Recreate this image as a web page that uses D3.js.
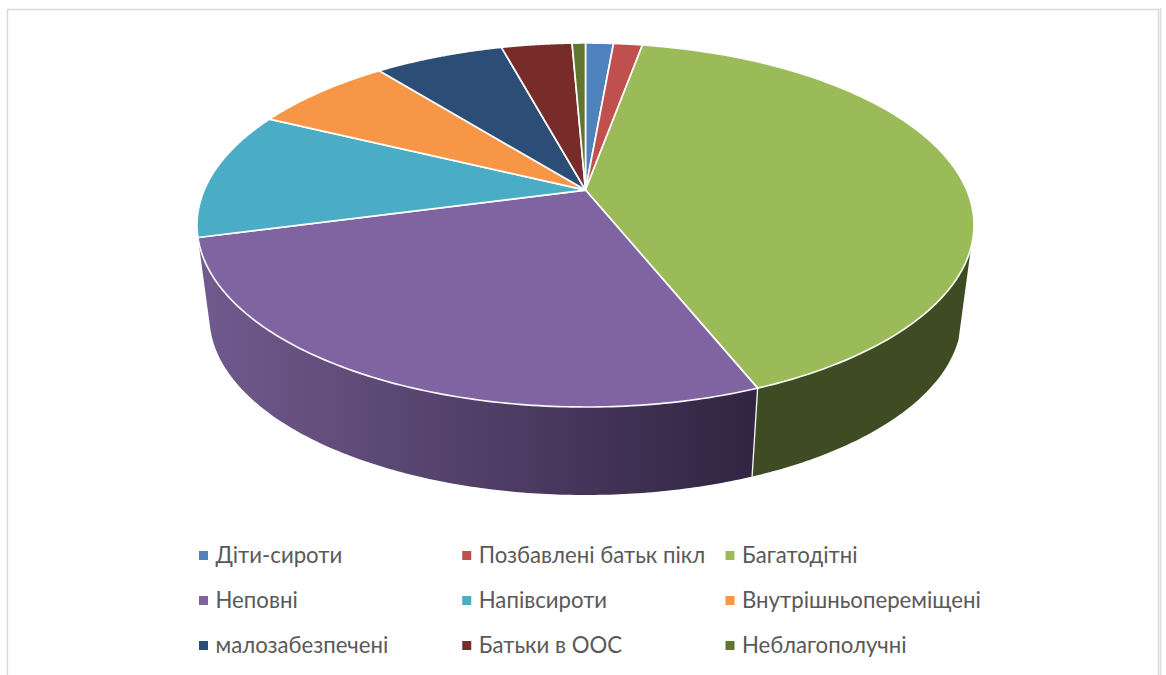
<!DOCTYPE html>
<html><head><meta charset="utf-8">
<script src="https://cdn.jsdelivr.net/npm/d3@7"></script>
<style>
html,body{margin:0;padding:0;background:#fff;overflow:hidden}
svg{display:block}
text{font-family:Lato,"Open Sans","Noto Sans",sans-serif}
</style></head><body>
<div id="chart"></div>
<script>
const categories = ["Діти-сироти","Позбавлені батьк пікл","Багатодітні","Неповні","Напівсироти","Внутрішньопереміщені","малозабезпечені","Батьки в ООС","Неблагополучні"];
const values = [1.4,1.45,41.22,26.98,11.4,7.1,6.5,3.55,0.67];
const colors = ["#4f81bd","#c0504d","#9bbb59","#8064a2","#4bacc6","#f79646","#2c4d75","#772c2a","#5f7530"];

const W=1166,H=675;
const svg=d3.select("#chart").append("svg").attr("width",W).attr("height",H);
const defs=svg.append("defs");

svg.append("path").attr("d",`M7.5 ${H} V9.5 H1158.5 V${H}`).attr("fill","none").attr("stroke","#d9d9d9").attr("stroke-width",1.4);
svg.append("line").attr("x1",1160.5).attr("x2",1160.5).attr("y1",8).attr("y2",H).attr("stroke","#dcdcdc").attr("stroke-width",1.6);

// Perspective: unit circle -> unit disc with the pie centre pushed up, then to an ellipse
const c=0.192, s=Math.sqrt(1-c*c);
const project=a=>{const x=Math.sin(a),y=Math.cos(a),d=1+c*y;return [x*s/d,(y+c)/d];};
const topX=d3.scaleLinear().domain([-1,1]).range([197,974]);
const topY=d3.scaleLinear().domain([-1,1]).range([407,43]);
const botX=d3.scaleLinear().domain([-1,1]).range([209.5,961.5]);
const botY=d3.scaleLinear().domain([-1,1]).range([495,139]);
const topPt=a=>{const p=project(a);return [topX(p[0]),topY(p[1])];};
const botPt=a=>{const p=project(a);return [botX(p[0]),botY(p[1])];};
const line=d3.line();
const arcs=d3.pie().sort(null).value(d=>d)(values);
const samples=(a,b,n)=>d3.range(n+1).map(i=>a+(b-a)*i/n);

// side walls: Багатодітні and Неповні
const grad=defs.append("linearGradient").attr("id","wall").attr("gradientUnits","userSpaceOnUse")
  .attr("x1",200).attr("x2",752).attr("y1",0).attr("y2",0);
grad.append("stop").attr("offset",0).attr("stop-color","#715a8e");
grad.append("stop").attr("offset",0.5).attr("stop-color","#523f68");
grad.append("stop").attr("offset",1).attr("stop-color","#302542");

const rightEnd=Math.PI*0.6;
const greenA=samples(rightEnd,arcs[2].endAngle,80);
const purpleA=samples(arcs[3].startAngle,arcs[3].endAngle,160);
svg.append("path").attr("d",line(greenA.map(topPt).concat(greenA.slice().reverse().map(botPt)))+"Z").attr("fill","#3f4b22");
svg.append("path").attr("d",line(purpleA.map(topPt).concat(purpleA.slice().reverse().map(botPt)))+"Z").attr("fill","url(#wall)");
svg.append("path").attr("d",line([topPt(arcs[2].endAngle),botPt(arcs[2].endAngle)])).attr("stroke","#f2f2f2").attr("stroke-width",1.4).attr("fill","none");

// top face
const centre=[topX(0),topY(c)];
svg.append("g").selectAll("path").data(arcs).join("path")
  .attr("d",d=>line([centre].concat(samples(d.startAngle,d.endAngle,120).map(topPt)))+"Z")
  .attr("fill",(d,i)=>colors[i]).attr("stroke","#ffffff").attr("stroke-opacity",0.95).attr("stroke-width",1.7).attr("stroke-linejoin","round");

// legend
const colX=d3.scalePoint().domain([0,1,2]).range([199,725.5]);
const rowY=d3.scalePoint().domain([0,1,2]).range([555.5,645.5]);
const lg=svg.append("g").selectAll("g").data(categories).join("g")
  .attr("transform",(d,i)=>`translate(${colX(i%3)},${rowY(Math.floor(i/3))})`);
lg.append("rect").attr("x",0).attr("y",-4.5).attr("width",9).attr("height",9).attr("fill",(d,i)=>colors[i]);
lg.append("text").attr("x",16.5).attr("y",7.5).attr("font-size",22.2).attr("fill","#595959").text(d=>d);
</script>
</body></html>
